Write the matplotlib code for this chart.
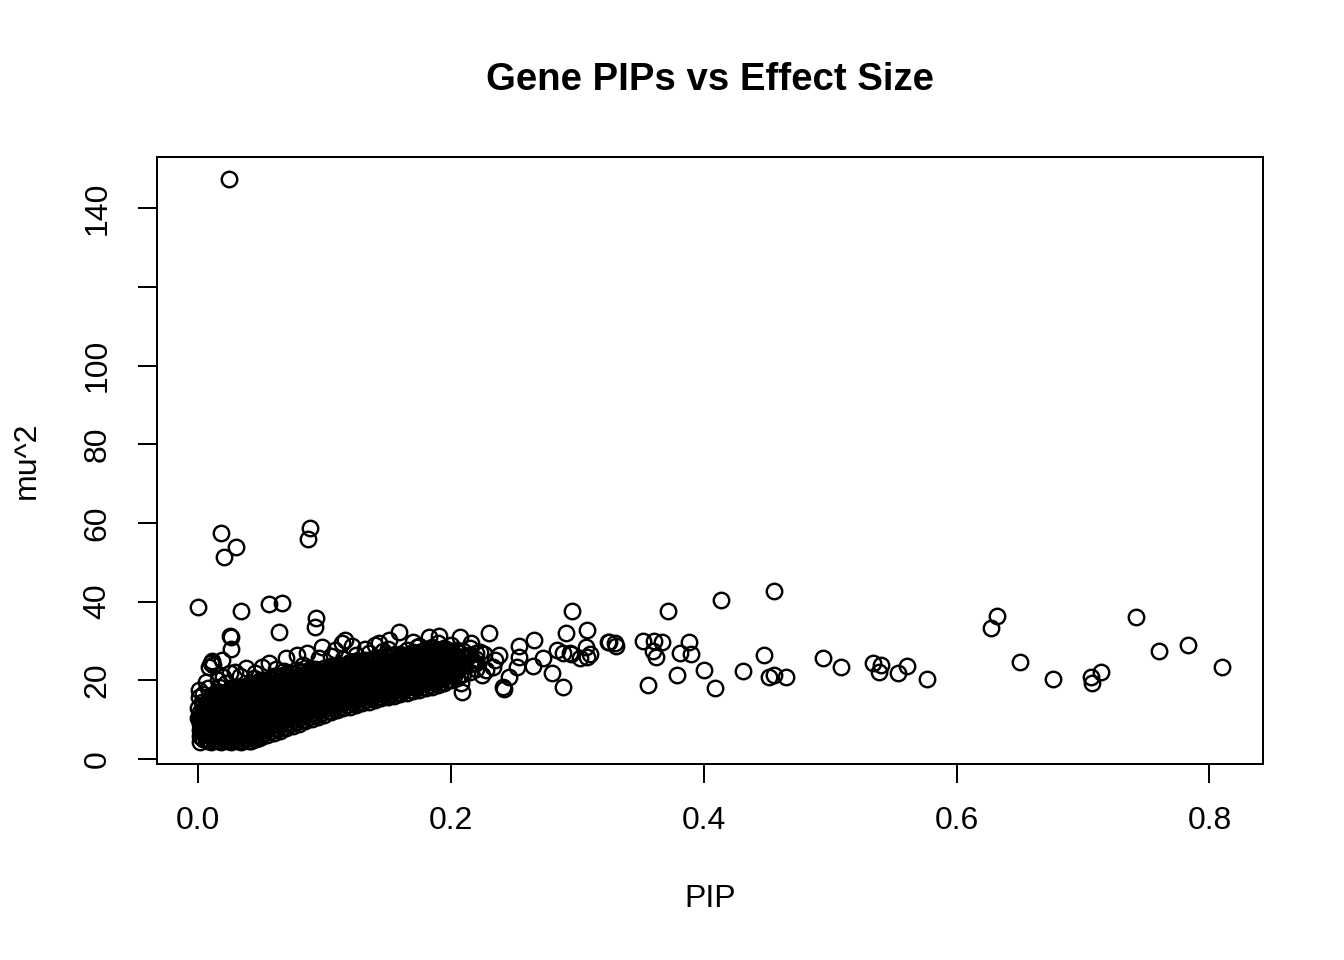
import matplotlib
matplotlib.use("Agg")
import matplotlib.pyplot as plt

plt.rcParams['font.family'] = ['Liberation Sans', 'DejaVu Sans']

# ---- sparse / outlying genes (PIP, mu^2) ----
pip_sparse = [0.810, 0.783, 0.760, 0.742, 0.714, 0.707, 0.706, 0.676, 0.650, 0.632,
              0.627, 0.577, 0.561, 0.554, 0.540, 0.539, 0.534, 0.509, 0.494, 0.465,
              0.456, 0.452, 0.456, 0.448, 0.431, 0.414, 0.409, 0.400, 0.390, 0.388,
              0.381, 0.379, 0.372, 0.367, 0.362, 0.361, 0.360, 0.356, 0.352, 0.330,
              0.325, 0.310, 0.308, 0.307, 0.302, 0.296, 0.295, 0.291, 0.289, 0.289,
              0.280, 0.241, 0.242, 0.209, 0.208, 0.230, 0.159, 0.254, 0.266, 0.265,
              0.252, 0.246, 0.273, 0.254, 0.238, 0.223, 0.308, 0.294, 0.324, 0.331,
              0.284, 0.228, 0.225, 0.233, 0.207, 0.191, 0.183, 0.173, 0.151, 0.143,
              0.114, 0.216, 0.217, 0.204, 0.196,
              0.0246, 0.0182, 0.0301, 0.0206, 0.0887, 0.0871, 0.000, 0.034, 0.056, 0.0665,
              0.0935, 0.0927, 0.064, 0.025, 0.026, 0.026]
mu2_sparse = [23.4, 29.0, 27.4, 36.1, 22.1, 19.3, 20.8, 20.3, 24.7, 36.3,
              33.3, 20.3, 23.6, 21.9, 23.9, 22.1, 24.4, 23.4, 25.7, 20.8,
              21.3, 20.8, 42.7, 26.4, 22.4, 40.4, 18.0, 22.6, 26.7, 29.7,
              26.9, 21.3, 37.6, 29.7, 25.9, 30.0, 27.4, 18.8, 30.0, 29.5,
              29.7, 26.7, 32.8, 28.5, 25.7, 37.6, 26.7, 32.0, 18.3, 26.9,
              21.9, 18.3, 17.8, 17.0, 19.3, 32.0, 32.3, 28.7, 30.2, 23.6,
              23.4, 20.8, 25.7, 25.9, 26.4, 27.2, 25.9, 26.9, 29.7, 28.7,
              27.7, 22.6, 21.3, 23.4, 31.0, 31.3, 31.0, 28.5, 30.2, 29.5,
              29.5, 29.5, 25.2, 24.7, 22.6,
              147.4, 57.4, 53.9, 51.3, 58.7, 55.9, 38.6, 37.6, 39.4, 39.6,
              35.8, 33.5, 32.3, 31.3, 30.9, 28.0]

# ---- genes at the upper/left fringe of the dense cloud ----
pip_fringe = [0.001, 0.001, 0.000, 0.000, 0.017, 0.014, 0.025, 0.029, 0.010, 0.009,
              0.011, 0.012, 0.019, 0.038, 0.051, 0.056, 0.070, 0.078, 0.086, 0.006,
              0.020, 0.033, 0.045, 0.062, 0.096, 0.105, 0.115, 0.125, 0.135, 0.150,
              0.165, 0.175, 0.190, 0.200, 0.116, 0.122, 0.132, 0.140, 0.108, 0.098,
              0.004, 0.008, 0.003, 0.016, 0.022, 0.044, 0.068, 0.083, 0.146, 0.170,
              0.185, 0.198, 0.212, 0.220, 0.226, 0.235]
mu2_fringe = [17.5, 15.8, 10.4, 13.0, 18.3, 17.0, 21.9, 22.1, 24.4, 23.4,
              24.8, 23.8, 25.2, 23.1, 23.4, 24.4, 25.7, 26.4, 26.9, 19.5,
              20.8, 21.0, 21.8, 23.0, 25.6, 26.2, 25.4, 26.5, 27.0, 28.0,
              27.8, 28.6, 29.5, 29.0, 30.2, 28.8, 28.0, 29.0, 27.6, 28.4,
              16.5, 18.0, 14.5, 20.2, 19.2, 20.6, 22.4, 24.0, 27.4, 29.8,
              28.4, 27.2, 26.0, 24.4, 26.8, 25.2]

# ---- dense cloud, read column by column (PIP -> list of mu^2) ----
dense_pip = [0.002, 0.006, 0.010, 0.014, 0.018, 0.022, 0.026, 0.030, 0.034, 0.038,
             0.042, 0.046, 0.050, 0.055, 0.060, 0.065, 0.070, 0.075, 0.080, 0.085,
             0.090, 0.095, 0.100, 0.105, 0.110, 0.115, 0.120, 0.125, 0.130, 0.135,
             0.140, 0.145, 0.150, 0.155, 0.160, 0.165, 0.170, 0.175, 0.180, 0.185,
             0.190, 0.195, 0.200, 0.205, 0.210, 0.215, 0.220]
dense_mu2 = [
    [4.4, 5.9, 7.4, 8.9, 10.4, 11.9],
    [5.1, 6.6, 8.1, 9.6, 11.1, 12.6, 14.1],
    [4.4, 5.9, 7.4, 8.9, 10.4, 11.9, 13.4, 14.9],
    [5.1, 6.6, 8.1, 9.6, 11.1, 12.6, 14.1, 15.6],
    [4.4, 5.9, 7.4, 8.9, 10.4, 11.9, 13.4, 14.9, 16.4],
    [5.1, 6.6, 8.1, 9.6, 11.1, 12.6, 14.1, 15.6, 17.1],
    [4.4, 5.9, 7.4, 8.9, 10.4, 11.9, 13.4, 14.9, 16.4, 17.9],
    [5.1, 6.6, 8.1, 9.6, 11.1, 12.6, 14.1, 15.6, 17.1, 18.3],
    [4.4, 5.9, 7.4, 8.9, 10.4, 11.9, 13.4, 14.9, 16.4, 18.0],
    [5.1, 6.6, 8.1, 9.6, 11.1, 12.6, 14.1, 15.6, 17.1, 18.6],
    [4.5, 5.9, 7.4, 8.9, 10.4, 11.9, 13.4, 14.9, 16.4, 17.9, 19.2],
    [5.2, 6.6, 8.1, 9.6, 11.1, 12.6, 14.1, 15.6, 17.1, 18.6],
    [5.6, 7.0, 8.5, 10.0, 11.5, 13.0, 14.5, 16.0, 17.5, 19.0, 20.2],
    [6.0, 7.5, 9.0, 10.5, 12.0, 13.5, 15.0, 16.5, 18.0, 19.5],
    [6.6, 8.0, 9.5, 11.0, 12.5, 14.0, 15.5, 17.0, 18.5, 20.0, 21.0],
    [7.2, 8.6, 10.1, 11.6, 13.1, 14.6, 16.1, 17.6, 19.1, 20.6],
    [7.8, 9.2, 10.7, 12.2, 13.7, 15.2, 16.7, 18.2, 19.7, 21.2],
    [8.5, 10.0, 11.5, 13.0, 14.5, 16.0, 17.5, 19.0, 20.5, 21.8],
    [9.0, 10.5, 12.0, 13.5, 15.0, 16.5, 18.0, 19.5, 21.0, 22.3],
    [9.6, 11.1, 12.6, 14.1, 15.6, 17.1, 18.6, 20.1, 21.6],
    [10.2, 11.7, 13.2, 14.7, 16.2, 17.7, 19.2, 20.7, 22.2, 23.0],
    [10.8, 12.3, 13.8, 15.3, 16.8, 18.3, 19.8, 21.3, 22.6],
    [11.3, 12.8, 14.3, 15.8, 17.3, 18.8, 20.3, 21.8, 23.2],
    [11.9, 13.4, 14.9, 16.4, 17.9, 19.4, 20.9, 22.4, 23.6],
    [12.4, 13.9, 15.4, 16.9, 18.4, 19.9, 21.4, 22.9, 24.0],
    [12.9, 14.4, 15.9, 17.4, 18.9, 20.4, 21.9, 23.4],
    [13.3, 14.8, 16.3, 17.8, 19.3, 20.8, 22.3, 23.8, 24.6],
    [13.8, 15.3, 16.8, 18.3, 19.8, 21.3, 22.8, 24.3],
    [14.2, 15.7, 17.2, 18.7, 20.2, 21.7, 23.2, 24.7],
    [14.6, 16.1, 17.6, 19.1, 20.6, 22.1, 23.6, 25.0],
    [15.0, 16.5, 18.0, 19.5, 21.0, 22.5, 24.0, 25.4],
    [15.4, 16.9, 18.4, 19.9, 21.4, 22.9, 24.4, 25.8],
    [15.8, 17.3, 18.8, 20.3, 21.8, 23.3, 24.8, 26.0],
    [16.1, 17.6, 19.1, 20.6, 22.1, 23.6, 25.1, 26.4],
    [16.5, 18.0, 19.5, 21.0, 22.5, 24.0, 25.5, 26.8],
    [16.9, 18.4, 19.9, 21.4, 22.9, 24.4, 25.9],
    [17.2, 18.7, 20.2, 21.7, 23.2, 24.7, 26.2, 27.2],
    [17.6, 19.1, 20.6, 22.1, 23.6, 25.1, 26.6],
    [18.0, 19.5, 21.0, 22.5, 24.0, 25.5, 27.0, 28.0],
    [18.4, 19.9, 21.4, 22.9, 24.4, 25.9, 27.3],
    [18.8, 20.3, 21.8, 23.3, 24.8, 26.3, 27.8],
    [19.4, 20.9, 22.4, 23.9, 25.4, 26.9, 28.2],
    [20.0, 21.5, 23.0, 24.5, 26.0, 27.5],
    [20.5, 22.6, 24.3, 26.2, 27.8],
    [21.5, 23.6, 25.6, 27.4],
    [22.0, 24.2, 26.5, 28.3],
    [23.0, 25.3, 27.0],
]

# ---- dense cloud, in-between columns ----
dense_pip_b = [0.004, 0.008, 0.012, 0.016, 0.020, 0.024, 0.028, 0.032, 0.036, 0.040,
               0.044, 0.048, 0.0525, 0.0575, 0.0625, 0.0675, 0.0725, 0.0775, 0.0825,
               0.0875, 0.0925, 0.0975, 0.1025, 0.1075, 0.1125, 0.1175, 0.1225, 0.1275,
               0.1325, 0.1375, 0.1425, 0.1475, 0.1525, 0.1575, 0.1625, 0.1675, 0.1725,
               0.1775, 0.1825, 0.1875, 0.1925, 0.1975, 0.2025, 0.2075]
dense_mu2_b = [
    [5.0, 6.5, 8.0, 9.5, 11.0, 12.5, 13.8],
    [4.6, 6.1, 7.6, 9.1, 10.6, 12.1, 13.6, 15.0],
    [5.0, 6.5, 8.0, 9.5, 11.0, 12.5, 14.0, 15.4],
    [4.6, 6.1, 7.6, 9.1, 10.6, 12.1, 13.6, 15.1, 16.2],
    [5.0, 6.5, 8.0, 9.5, 11.0, 12.5, 14.0, 15.5, 16.8],
    [4.6, 6.1, 7.6, 9.1, 10.6, 12.1, 13.6, 15.1, 16.6, 17.4],
    [5.0, 6.5, 8.0, 9.5, 11.0, 12.5, 14.0, 15.5, 17.0, 18.0],
    [4.6, 6.1, 7.6, 9.1, 10.6, 12.1, 13.6, 15.1, 16.6, 17.8],
    [5.0, 6.5, 8.0, 9.5, 11.0, 12.5, 14.0, 15.5, 17.0, 18.4],
    [4.6, 6.1, 7.6, 9.1, 10.6, 12.1, 13.6, 15.1, 16.6, 18.0, 19.0],
    [5.0, 6.5, 8.0, 9.5, 11.0, 12.5, 14.0, 15.5, 17.0, 18.5],
    [5.4, 6.8, 8.3, 9.8, 11.3, 12.8, 14.3, 15.8, 17.3, 18.8, 19.8],
    [6.5, 8.0, 9.5, 11.0, 12.5, 14.0, 15.5, 17.0, 18.5, 20.0],
    [7.0, 8.5, 10.0, 11.5, 13.0, 14.5, 16.0, 17.5, 19.0, 20.5],
    [7.6, 9.1, 10.6, 12.1, 13.6, 15.1, 16.6, 18.1, 19.6, 20.9],
    [8.2, 9.7, 11.2, 12.7, 14.2, 15.7, 17.2, 18.7, 20.2, 21.3],
    [8.9, 10.4, 11.9, 13.4, 14.9, 16.4, 17.9, 19.4, 20.9],
    [9.5, 11.0, 12.5, 14.0, 15.5, 17.0, 18.5, 20.0, 21.5],
    [10.0, 11.5, 13.0, 14.5, 16.0, 17.5, 19.0, 20.5, 22.0],
    [10.6, 12.1, 13.6, 15.1, 16.6, 18.1, 19.6, 21.1, 22.5],
    [11.2, 12.7, 14.2, 15.7, 17.2, 18.7, 20.2, 21.7, 22.8],
    [11.8, 13.3, 14.8, 16.3, 17.8, 19.3, 20.8, 22.3],
    [12.3, 13.8, 15.3, 16.8, 18.3, 19.8, 21.3, 22.8],
    [12.8, 14.3, 15.8, 17.3, 18.8, 20.3, 21.8, 23.3],
    [13.3, 14.8, 16.3, 17.8, 19.3, 20.8, 22.3, 23.8],
    [13.8, 15.3, 16.8, 18.3, 19.8, 21.3, 22.8, 24.2],
    [14.2, 15.7, 17.2, 18.7, 20.2, 21.7, 23.2, 24.5],
    [14.6, 16.1, 17.6, 19.1, 20.6, 22.1, 23.6, 24.8],
    [15.0, 16.5, 18.0, 19.5, 21.0, 22.5, 24.0, 25.2],
    [15.4, 16.9, 18.4, 19.9, 21.4, 22.9, 24.4, 25.5],
    [15.8, 17.3, 18.8, 20.3, 21.8, 23.3, 24.8],
    [16.2, 17.7, 19.2, 20.7, 22.2, 23.7, 25.2],
    [16.6, 18.1, 19.6, 21.1, 22.6, 24.1, 25.6],
    [16.9, 18.4, 19.9, 21.4, 22.9, 24.4, 25.9],
    [17.3, 18.8, 20.3, 21.8, 23.3, 24.8, 26.3],
    [17.6, 19.1, 20.6, 22.1, 23.6, 25.1, 26.6],
    [18.0, 19.5, 21.0, 22.5, 24.0, 25.5, 27.0],
    [18.4, 19.9, 21.4, 22.9, 24.4, 25.9, 27.4],
    [18.8, 20.3, 21.8, 23.3, 24.8, 26.3, 27.6],
    [19.2, 20.7, 22.2, 23.7, 25.2, 26.7],
    [19.6, 21.1, 22.6, 24.1, 25.6, 27.1],
    [20.2, 21.7, 23.2, 24.7, 26.2, 27.7],
    [21.0, 22.8, 24.6, 26.5],
    [21.4, 23.4, 25.2, 27.0],
]

x_ticks = [0.0, 0.2, 0.4, 0.6, 0.8]
x_tick_labels = ["0.0", "0.2", "0.4", "0.6", "0.8"]
y_ticks = [0, 20, 40, 60, 80, 100, 120, 140]
y_tick_labels = ["0", "20", "40", "60", "80", "100", "", "140"]

# assemble
xs, ys = [], []
for cols_x, cols_y in ((dense_pip, dense_mu2), (dense_pip_b, dense_mu2_b)):
    for px, col in zip(cols_x, cols_y):
        for v in col:
            xs.append(px)
            ys.append(v)
xs += pip_fringe + pip_sparse
ys += mu2_fringe + mu2_sparse

fig = plt.figure(figsize=(7, 5), dpi=192)
ax = fig.add_axes([157 / 1344, 196 / 960, 1106 / 1344, 607 / 960])
ax.plot(xs, ys, linestyle='none', marker='o', markersize=5.8,
        markerfacecolor='none', markeredgecolor='black', markeredgewidth=0.9)

ax.set_xlim(-0.0324, 0.8424)
ax.set_ylim(-1.27, 153.0)

for s in ax.spines.values():
    s.set_linewidth(0.75)
    s.set_color('black')

ax.set_xticks(x_ticks)
ax.set_xticklabels(x_tick_labels)
ax.set_yticks(y_ticks)
ax.set_yticklabels(y_tick_labels)
ax.tick_params(axis='both', direction='out', length=7.1, width=0.75,
               labelsize=12, color='black', labelcolor='black')
ax.tick_params(axis='x', pad=8.5)
ax.tick_params(axis='y', pad=9.5)
for lab in ax.get_yticklabels():
    lab.set_rotation(90)
    lab.set_va('center')
    lab.set_ha('right')

fig.text(710 / 1344, 1 - 80 / 960, "Gene PIPs vs Effect Size", ha='center',
         va='center', fontsize=14.4, fontweight='bold')
fig.text(710 / 1344, 1 - 899 / 960, "PIP", ha='center', va='center', fontsize=12)
fig.text(27 / 1344, 1 - 460 / 960, "mu^2", ha='center', va='center',
         fontsize=12, rotation=90)

fig.savefig("out.png", dpi=192)
